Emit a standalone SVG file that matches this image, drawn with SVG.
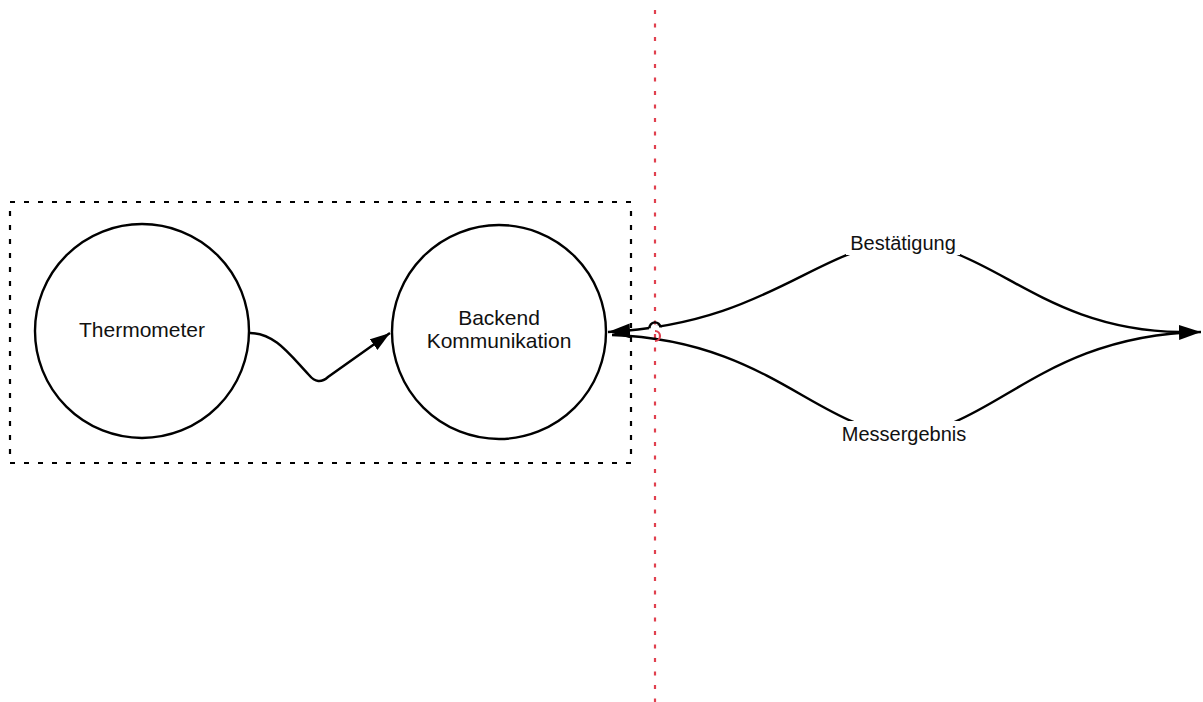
<svg xmlns="http://www.w3.org/2000/svg" width="1203" height="702" viewBox="0 0 1203 702">
<style>
.node{fill:#fff;stroke:#000;stroke-width:2.4}
.txt{font-family:"Liberation Sans",Arial,sans-serif;font-size:21px;fill:#111;text-anchor:middle}
.lbl{font-family:"Liberation Sans",Arial,sans-serif;font-size:20px;fill:#111;text-anchor:middle}
.edge{fill:none;stroke:#000;stroke-width:2.4}
</style>
<defs>
<marker id="arr" markerUnits="userSpaceOnUse" markerWidth="24" markerHeight="16" refX="22" refY="7.5" orient="auto">
<path d="M0,0 L22,7.5 L0,15 Z" fill="#000"/>
</marker>
<marker id="arrs" markerUnits="userSpaceOnUse" markerWidth="22" markerHeight="14" refX="20" refY="6.5" orient="auto">
<path d="M0,0 L20,6.5 L0,13 Z" fill="#000"/>
</marker>
</defs>
<g id="boundary">
<rect x="10" y="202" width="621" height="261" fill="none" stroke="#000" stroke-width="2.2" stroke-dasharray="5,9"/>
</g>
<g id="trust-line">
<line x1="655" y1="10" x2="655" y2="702" stroke="#e0404e" stroke-width="2.2" stroke-dasharray="4,9.5"/>
</g>
<g id="thermometer">
<circle class="node" cx="142" cy="331" r="107"/>
<text class="txt" x="142" y="337">Thermometer</text>
</g>
<g id="backend">
<circle class="node" cx="499" cy="332" r="107"/>
<text class="txt" x="499" y="325">Backend</text>
<text class="txt" x="499" y="348">Kommunikation</text>
</g>
<g id="connectors">
<path class="edge" d="M250,333 C275,333 290,355 309,375 Q318,386 328,377 L390,333" marker-end="url(#arrs)"/>
<path class="edge" d="M1180,332 C1040,330 990,243 903,243 C820,243 770,324 608,332" marker-end="url(#arr)"/>
<path class="edge" d="M612,335 C770,340 820,433 904,433 C990,433 1040,335 1201,332" marker-end="url(#arr)"/>
<line x1="649" y1="328" x2="661" y2="327.5" stroke="#fff" stroke-width="4.5"/>
<path class="edge" d="M649.5,328.3 A5.5,5.5 0 0 1 660.5,327.5"/>
<path d="M655,331 A5,5 0 0 1 655,341" fill="none" stroke="#e0404e" stroke-width="2.2"/>
<rect x="846" y="228" width="114" height="27" fill="#fff"/>
<text class="lbl" x="903" y="250">Bestätigung</text>
<rect x="840" y="421" width="128" height="26" fill="#fff"/>
<text class="lbl" x="904" y="441">Messergebnis</text>
</g>
</svg>
